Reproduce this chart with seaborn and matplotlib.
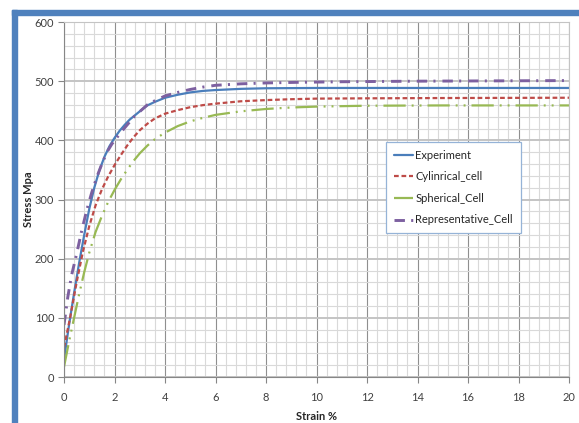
import matplotlib
matplotlib.use("Agg")
import matplotlib.pyplot as plt
import seaborn as sns
from matplotlib.patches import Rectangle
from matplotlib.ticker import MultipleLocator

# values (strain %, stress MPa)
exp_strain = [0, 0.2, 0.4, 0.6, 0.8, 1.0, 1.2, 1.4, 1.6, 1.8, 2.0, 2.2, 2.4, 2.6, 2.8, 3.0, 3.3, 3.6, 4.0, 4.5,
              5.0, 5.5, 6.0, 7.0, 8.0, 10, 12, 14, 16, 18, 20]
exp_stress = [30, 88, 142, 193, 240, 284, 320, 349, 372, 390, 404, 416, 426, 435, 442, 449, 459, 465, 472, 477,
              481, 483.5, 485, 487, 488, 488.5, 488.5, 488.5, 488.5, 488.5, 488.5]

cyl_strain = [0, 0.25, 0.5, 0.75, 1.0, 1.25, 1.5, 1.75, 2.0, 2.25, 2.5, 2.75, 3.0, 3.3, 3.6, 4.0, 4.5, 5.0,
              5.5, 6.0, 7.0, 8.0, 9.0, 10, 12, 15, 20]
cyl_stress = [50, 102, 160, 212, 255, 290, 317, 339, 358, 375, 391, 405, 417, 428, 437, 445, 451, 456,
              459.5, 462, 466, 468, 469.5, 470.5, 471, 471.5, 472]

sph_strain = [0, 0.2, 0.4, 0.6, 0.8, 1.0, 1.25, 1.5, 1.75, 2.0, 2.25, 2.5, 2.75, 3.0, 3.3, 3.6, 4.0, 4.5,
              5.0, 5.5, 6.0, 7.0, 8.0, 9.0, 10, 12, 15, 20]
sph_stress = [17, 60, 100, 140, 177, 210, 245, 272, 296, 316, 334, 350, 365, 378, 391, 402, 413, 424,
              432, 438, 443, 449, 453, 455.5, 457, 458.5, 459, 459]

rep_strain = [0, 0.15, 0.3, 0.5, 0.7, 0.9, 1.1, 1.3, 1.5, 1.7, 1.9, 2.1, 2.4, 2.8, 3.3, 3.6, 4.0, 4.5,
              5.0, 5.5, 6.0, 7.0, 8.0, 9.2, 11, 14, 17, 20]
rep_stress = [88, 135, 172, 208, 247, 282, 312, 338, 360, 380, 394, 405, 421, 441, 460, 467, 475, 481,
              486, 490, 493, 495.5, 497, 498, 499, 500, 500.5, 501]

labels = ["Experiment", "Cylinrical_cell", "Spherical_Cell", "Representative_Cell"]
colors = ["#4A7EBB", "#BE4B48", "#98B954", "#7D60A0"]

sns.set_style("white")
plt.rcParams['font.family'] = ['Lato', 'DejaVu Sans']
plt.rcParams['lines.scale_dashes'] = False

fig = plt.figure(figsize=(5.79, 4.23), dpi=100)
ax = fig.add_axes([64/579, 1 - 377/423, 505/579, 355/423])

# chart border (excel frame)
fig.patches.append(Rectangle((12/579, 0), 5/579, 1 - 10/423, transform=fig.transFigure,
                             color="#4F81BD", zorder=0))
fig.patches.append(Rectangle((12/579, 1 - 15/423), 1, 5/423, transform=fig.transFigure,
                             color="#4F81BD", zorder=0))

sns.lineplot(x=exp_strain, y=exp_stress, ax=ax, color=colors[0], lw=1.6,
             linestyle='-', label=labels[0])
sns.lineplot(x=cyl_strain, y=cyl_stress, ax=ax, color=colors[1], lw=1.6,
             linestyle=(0, (3.4, 2.0)), label=labels[1])
sns.lineplot(x=sph_strain, y=sph_stress, ax=ax, color=colors[2], lw=1.6,
             linestyle=(0, (16, 4.3, 1.4, 4.3, 1.4, 4.3)), label=labels[2])
sns.lineplot(x=rep_strain, y=rep_stress, ax=ax, color=colors[3], lw=2.1,
             linestyle=(0, (7.5, 4.5, 1.5, 5)), label=labels[3])

ax.set_xlim(0, 20)
ax.set_ylim(0, 600)
ax.xaxis.set_major_locator(MultipleLocator(2))
ax.xaxis.set_minor_locator(MultipleLocator(0.4))
ax.yaxis.set_major_locator(MultipleLocator(100))
ax.yaxis.set_minor_locator(MultipleLocator(20))

ax.set_axisbelow(True)
ax.grid(which='minor', color='#d9d9d9', lw=0.8)
ax.grid(which='major', axis='x', color='#8f8f8f', lw=0.8)
ax.grid(which='major', axis='y', color='#c4c4c4', lw=1.4)

ax.tick_params(which='major', direction='out', length=4, width=0.8, color='#868686',
               labelsize=8, labelcolor='#404040', bottom=True, left=True, pad=3)
ax.tick_params(axis='x', which='major', pad=7)
ax.tick_params(which='minor', length=0)

for side in ['left', 'bottom']:
    ax.spines[side].set_color('#868686')
    ax.spines[side].set_linewidth(0.8)
for side in ['top', 'right']:
    ax.spines[side].set_color('#c4c4c4')
    ax.spines[side].set_linewidth(0.8)

ax.set_xlabel("Strain %", fontsize=8, fontweight='bold')
ax.set_ylabel("Stress Mpa", fontsize=8, fontweight='bold')
ax.xaxis.set_label_coords(0.5, -0.095)
ax.yaxis.set_label_coords(-0.06, 0.5)

leg = ax.legend(loc='upper left', bbox_to_anchor=((386 - 64)/505, (377 - 142)/355),
                fontsize=8, frameon=True, fancybox=False, framealpha=1,
                handlelength=1.7, handletextpad=0.25, labelspacing=0.95,
                borderpad=0.7, borderaxespad=0)
leg.get_frame().set_edgecolor('#95B3D7')
leg.get_frame().set_linewidth(0.9)

fig.savefig("out.png", dpi=100)
